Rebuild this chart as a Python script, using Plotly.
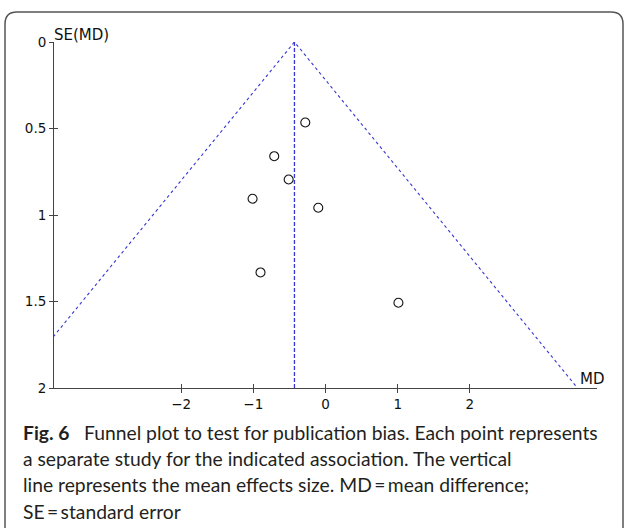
import plotly.graph_objects as go

# ---- data ----
md = [-0.28, -0.71, -0.51, -1.01, -0.10, -0.90, 1.01]
se = [0.465, 0.66, 0.795, 0.906, 0.958, 1.332, 1.507]
mean_md = -0.43
se_max = 2.0
z = 1.96
x_ticks = [-2, -1, 0, 1, 2]
x_ticklabels = ["\u22122", "\u22121", "0", "1", "2"]
y_ticks = [0, 0.5, 1, 1.5, 2]
y_ticklabels = ["0", "0.5", "1", "1.5", "2"]
caption_lines = [
    "<b>Fig. 6</b>\u2002 Funnel plot to test for publication bias. Each point represents",
    "a separate study for the indicated association. The vertical",
    "line represents the mean effects size. MD\u2009=\u2009mean difference;",
    "SE\u2009=\u2009standard error",
]

W, H = 625, 528
L, R, T, B = 54, 28, 42, 140
PW, PH = W - L - R, H - T - B


def px(x):
    return (x - L) / PW


def py(y):
    return (H - B - y) / PH


blue = "#3535d0"
axis_col = "#444444"

fig = go.Figure()

# funnel (pseudo 95% limits)
fig.add_trace(go.Scatter(
    x=[mean_md - z * se_max, mean_md, mean_md + z * se_max],
    y=[se_max, 0, se_max],
    mode="lines", line=dict(color=blue, width=1.1, dash="3px,3px"),
    hoverinfo="skip", showlegend=False))
# vertical mean line
fig.add_trace(go.Scatter(
    x=[mean_md, mean_md], y=[0, se_max],
    mode="lines", line=dict(color=blue, width=1.3, dash="4px,2px"),
    hoverinfo="skip", showlegend=False))
# studies
fig.add_trace(go.Scatter(
    x=md, y=se, mode="markers",
    marker=dict(symbol="circle-open", size=9, color="#111111", line=dict(width=1.1)),
    showlegend=False))
# invisible trace on the overlay axes (for crossing tick marks)
fig.add_trace(go.Scatter(x=[0], y=[1], xaxis="x2", yaxis="y2", mode="markers",
                         marker=dict(opacity=0), hoverinfo="skip", showlegend=False))

tickfont = dict(family="DejaVu Sans", size=13.5, color="#111111")
xr = [-3.76, 3.76]
yr = [2, 0]

fig.update_layout(
    width=W, height=H,
    margin=dict(l=L, r=R, t=T, b=B),
    paper_bgcolor="white", plot_bgcolor="white",
    xaxis=dict(range=xr, tickvals=x_ticks, ticktext=x_ticklabels,
               ticks="outside", ticklen=4, tickcolor=axis_col, tickwidth=1,
               showline=True, linecolor=axis_col, linewidth=1,
               showgrid=False, zeroline=False, tickfont=tickfont, fixedrange=True),
    yaxis=dict(range=yr, tickvals=y_ticks, ticktext=y_ticklabels,
               ticks="outside", ticklen=4, tickcolor=axis_col, tickwidth=1,
               showline=True, linecolor=axis_col, linewidth=1,
               showgrid=False, zeroline=False, tickfont=tickfont, fixedrange=True),
    xaxis2=dict(range=xr, overlaying="x", anchor="y", side="bottom", tickvals=x_ticks,
                ticks="inside", ticklen=4, tickcolor=axis_col, showticklabels=False,
                showline=False, showgrid=False, zeroline=False, fixedrange=True),
    yaxis2=dict(range=yr, overlaying="y", anchor="x", side="left", tickvals=y_ticks,
                ticks="inside", ticklen=4, tickcolor=axis_col, showticklabels=False,
                showline=False, showgrid=False, zeroline=False, fixedrange=True),
)

# axis titles
fig.add_annotation(text="SE(MD)", xref="paper", yref="paper", x=px(53), y=py(35),
                   xanchor="left", yanchor="middle", showarrow=False, borderpad=0,
                   font=dict(family="DejaVu Sans", size=15, color="#111111"))
fig.add_annotation(text="MD", xref="paper", yref="paper", x=px(579), y=py(379),
                   xanchor="left", yanchor="middle", showarrow=False, borderpad=0,
                   font=dict(family="DejaVu Sans", size=15, color="#111111"))

# caption
for i, line in enumerate(caption_lines):
    fig.add_annotation(text=line, xref="paper", yref="paper", x=px(22), y=py(432 + 26.4 * i),
                       xanchor="left", yanchor="middle", showarrow=False, borderpad=0,
                       align="left",
                       font=dict(family="Lato", size=19.3, color="#231f20"))

# frame with rounded top corners
path = (f"M {px(5)},{py(540)} L {px(5)},{py(24)} Q {px(5)},{py(12)} {px(17)},{py(12)} "
        f"L {px(611)},{py(12)} Q {px(623)},{py(12)} {px(623)},{py(24)} L {px(623)},{py(540)}")
fig.add_shape(type="path", path=path, xref="paper", yref="paper",
              line=dict(color="#555555", width=1.5))

fig.write_html("out.html", config={"displayModeBar": False},
               post_script="document.body.style.margin='0';")
